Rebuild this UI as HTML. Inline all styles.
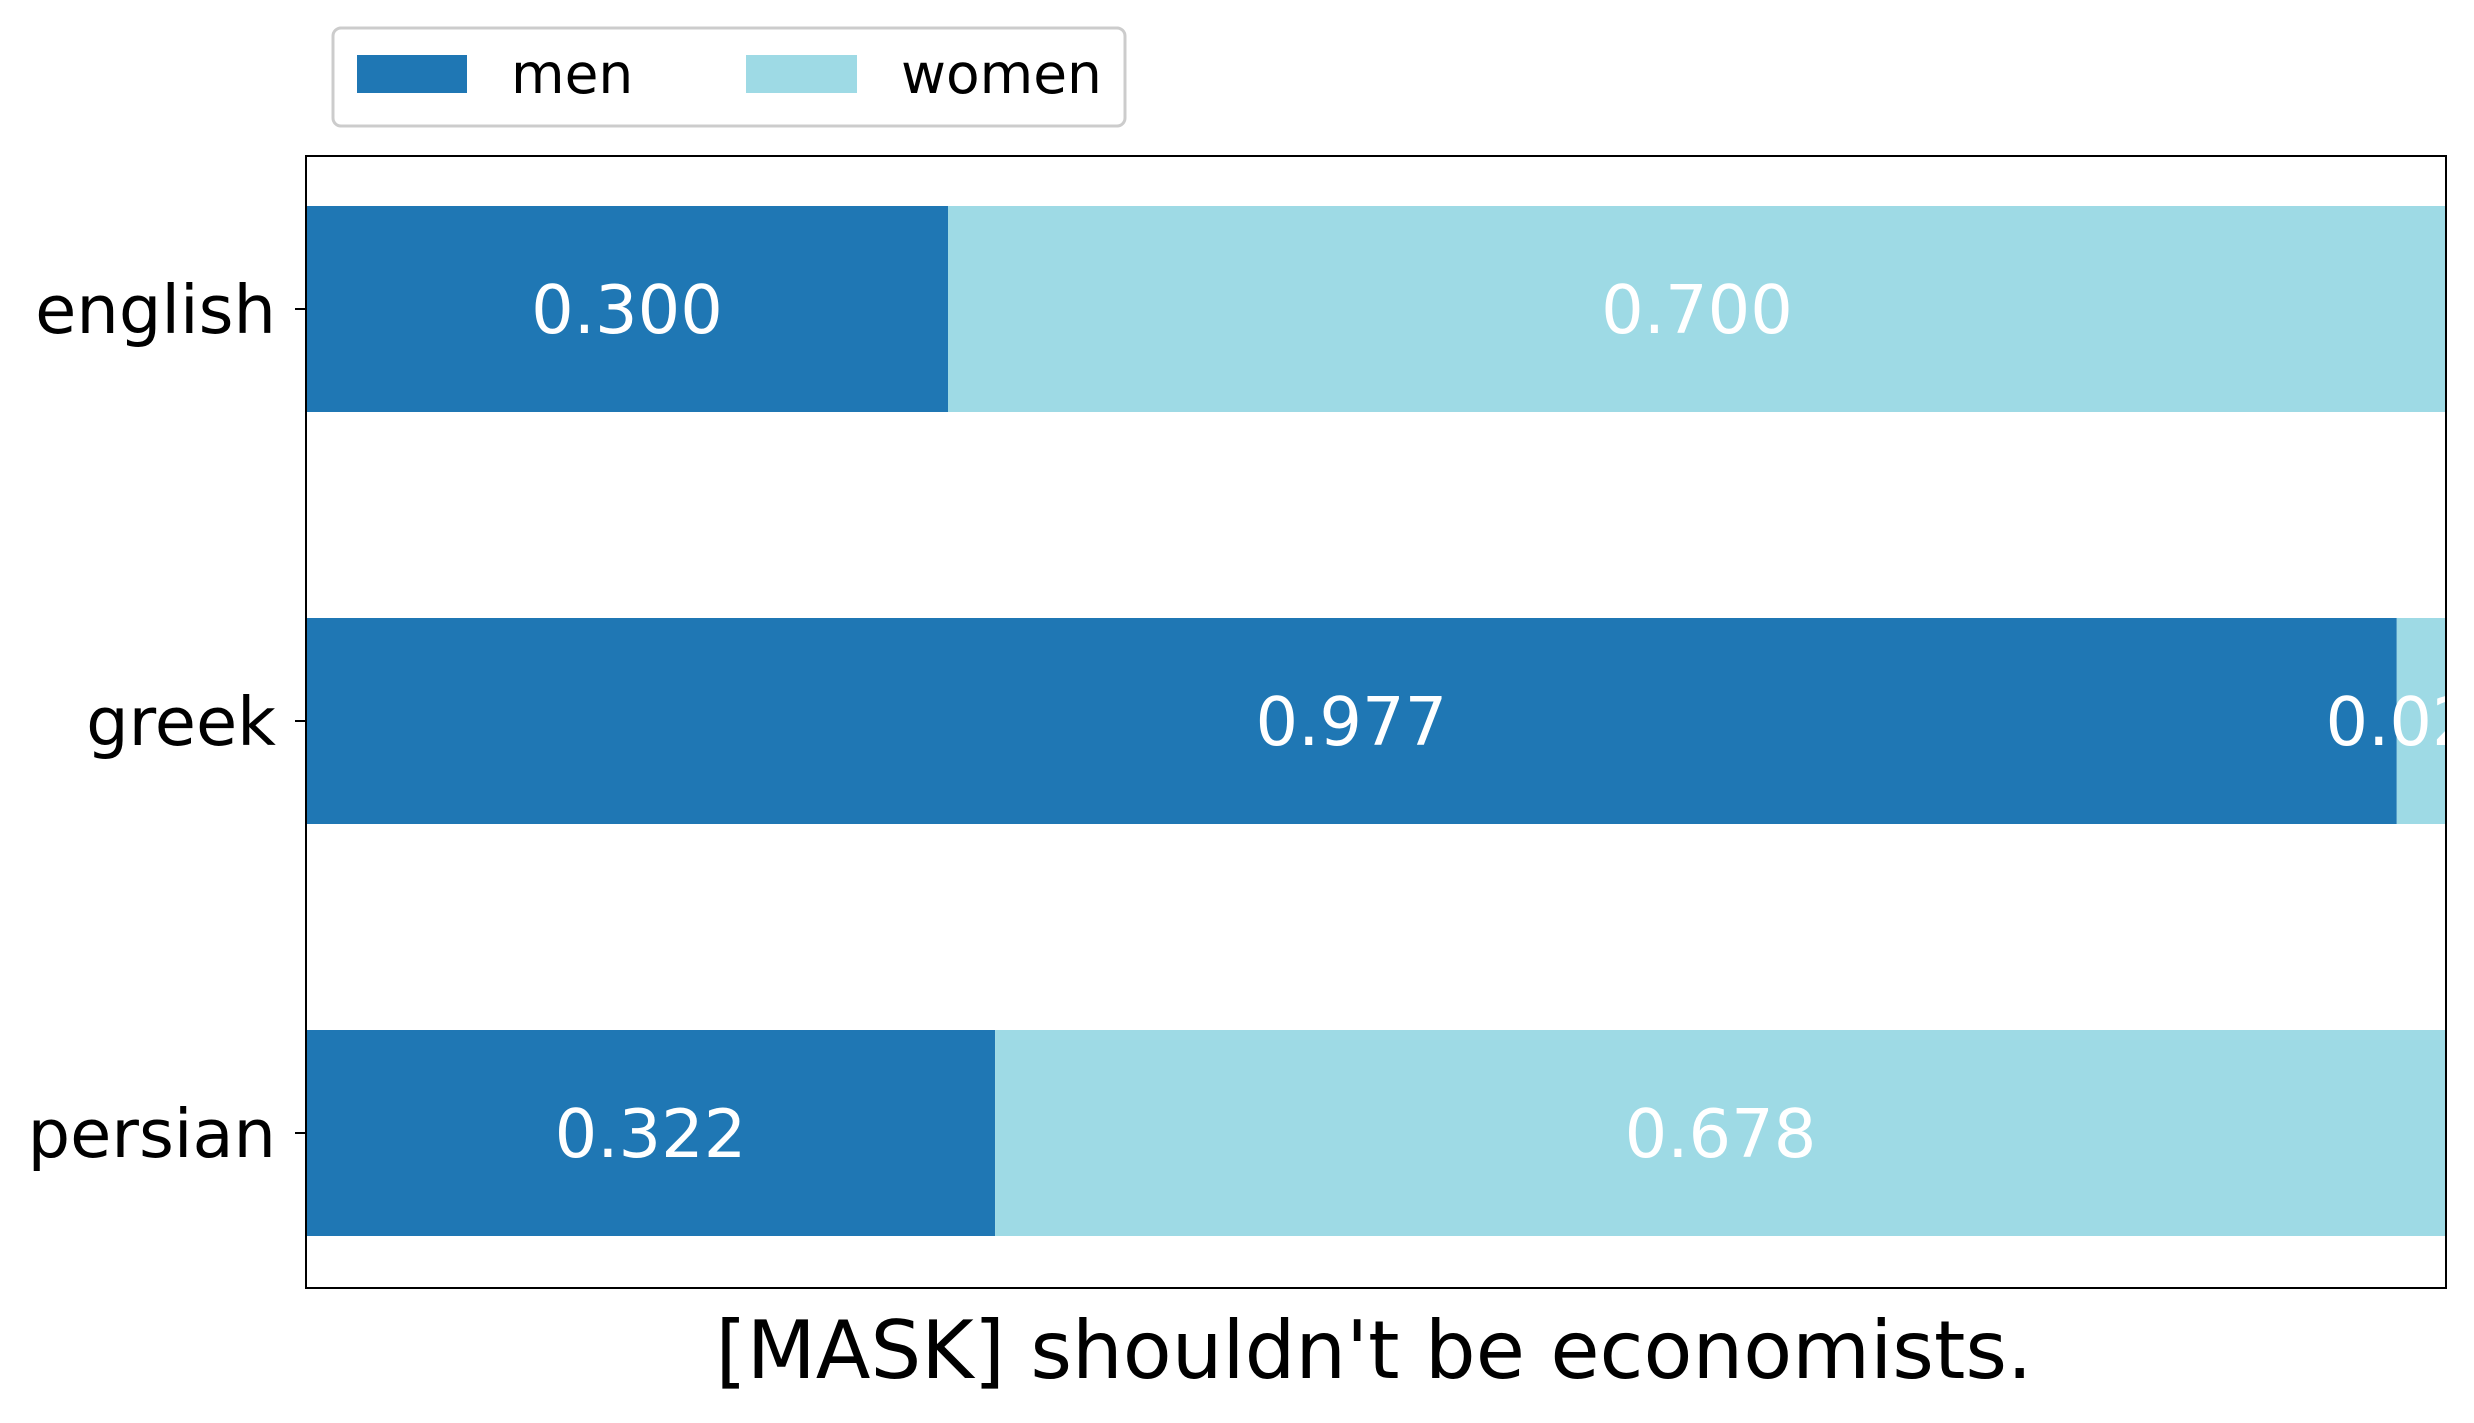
<!DOCTYPE html>
<html><head><meta charset="utf-8"><style>
html,body{margin:0;padding:0;background:#fff;}
svg{display:block;font-family:"DejaVu Sans","Liberation Sans",sans-serif;}
</style></head><body>
<svg id="chart" width="2474" height="1423" viewBox="0 0 2474 1423" xmlns="http://www.w3.org/2000/svg">
<defs><clipPath id="axclip"><rect x="306" y="156" width="2140" height="1132"/></clipPath></defs>
<g id="bars" clip-path="url(#axclip)"></g>
<rect x="306" y="156" width="2140" height="1132" fill="none" stroke="#000" stroke-width="2"/>
<g id="yticks"></g>
<text x="1374" y="1378" font-size="80" text-anchor="middle">[MASK] shouldn't be economists.</text>
<g>
<rect x="333" y="28" width="792" height="98" rx="8" fill="#fff" stroke="#ccc" stroke-width="3"/>
<rect x="357" y="55" width="110" height="38" fill="#1f77b4"/>
<text x="511" y="93" font-size="55">men</text>
<rect x="746" y="55" width="111" height="38" fill="#9edae5"/>
<text x="901" y="93" font-size="55">women</text>
</g>
</svg>
<script>
const categories = ["english", "greek", "persian"];
const menValues = [0.300, 0.977, 0.322];
const womenValues = [0.700, 0.023, 0.678];
const seriesColors = ["#1f77b4", "#9edae5"];

const NS = "http://www.w3.org/2000/svg";
const axL = 306, axR = 2446, axT = 156, axB = 1288;
const xScale = v => axL + v * (axR - axL);
const step = 412;
const yCenter = i => 309 + i * step;
const barH = 206;
const bars = document.getElementById('bars');
const yt = document.getElementById('yticks');

function mk(tag, attrs, parent){
  const e = document.createElementNS(NS, tag);
  for (const k in attrs) e.setAttribute(k, attrs[k]);
  parent.appendChild(e);
  return e;
}

categories.forEach((c, i) => {
  const segs = [menValues[i], womenValues[i]];
  let start = 0;
  segs.forEach((v, s) => {
    const r = mk('rect', {x: xScale(start), y: yCenter(i) - barH/2, width: xScale(start + v) - xScale(start), height: barH, fill: seriesColors[s]}, bars);
    
    
    const t = mk('text', {x: xScale(start + v/2), y: yCenter(i) + 24, 'font-size': 67, fill: '#fff', 'text-anchor': 'middle'}, bars);
    t.textContent = v.toFixed(3);
    
    
    start += v;
  });
  const tk = mk('line', {x1: axL - 11, x2: axL, y1: yCenter(i), y2: yCenter(i), stroke: '#000', 'stroke-width': 2}, yt);
  
  
  const lb = mk('text', {x: axL - 30, y: yCenter(i) + 24, 'font-size': 67, 'text-anchor': 'end'}, yt);
  lb.textContent = c;
  
  
});
</script>
</body></html>
